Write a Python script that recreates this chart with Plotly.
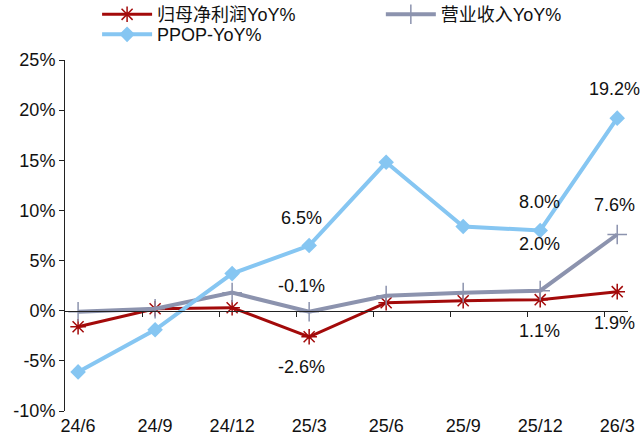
import plotly.graph_objects as go

periods = ["24/6", "24/9", "24/12", "25/3", "25/6", "25/9", "25/12", "26/3"]
net_profit_yoy = [-1.6, 0.2, 0.3, -2.6, 0.8, 1.0, 1.1, 1.9]
revenue_yoy = [-0.1, 0.2, 1.8, -0.1, 1.5, 1.8, 2.0, 7.6]
ppop_yoy = [-6.1, -1.9, 3.7, 6.5, 14.8, 8.4, 8.0, 19.2]
y_ticks = [-10, -5, 0, 5, 10, 15, 20, 25]

RED = "#A30A0A"
GRAY = "#8C93AE"
BLUE = "#86C6F2"
FONT = "Liberation Sans, Arial, Noto Sans CJK SC, sans-serif"

x = list(range(len(periods)))

fig = go.Figure()
fig.add_trace(go.Scatter(
    x=x, y=net_profit_yoy, name="归母净利润YoY%", mode="lines+markers",
    line=dict(color=RED, width=3), legend="legend",
    marker=dict(symbol="asterisk-open", size=13, line=dict(color=RED, width=1.5)),
))
fig.add_trace(go.Scatter(
    x=x, y=revenue_yoy, name="营业收入YoY%", mode="lines+markers",
    line=dict(color=GRAY, width=4), legend="legend2",
    marker=dict(symbol="cross-thin-open", size=14, line=dict(color=GRAY, width=1.5)),
))
fig.add_trace(go.Scatter(
    x=x, y=ppop_yoy, name="PPOP-YoY%", mode="lines+markers",
    line=dict(color=BLUE, width=4), legend="legend3",
    marker=dict(symbol="diamond", size=12, color=BLUE),
))

# value labels: (series, index, offset in px, downward positive)
labelled = [
    (ppop_yoy, 3, -28), (revenue_yoy, 3, -26), (net_profit_yoy, 3, 30),
    (ppop_yoy, 6, -28), (revenue_yoy, 6, -47), (net_profit_yoy, 6, 31),
    (revenue_yoy, 7, -30), (ppop_yoy, 7, -29), (net_profit_yoy, 7, 31),
]
x_shift = {3: -8, 6: -1, 7: -3}
for series, i, dy in labelled:
    fig.add_annotation(
        x=i, y=series[i], text=f"{series[i]:.1f}%", showarrow=False,
        yshift=-dy, xshift=x_shift[i], font=dict(size=18, color="#111111", family=FONT),
    )

legend_style = dict(
    orientation="v", yanchor="top", xanchor="left", font=dict(size=18),
    tracegroupgap=0, itemwidth=50, bgcolor="rgba(0,0,0,0)",
)

fig.update_layout(
    width=640, height=447,
    margin=dict(l=65, r=12, t=60, b=36, autoexpand=False),
    paper_bgcolor="white", plot_bgcolor="white",
    font=dict(family=FONT, size=18, color="#111111"),
    showlegend=True,
    legend=dict(x=0.057, y=1.182, **legend_style),
    legend2=dict(x=0.561, y=1.182, **legend_style),
    legend3=dict(x=0.057, y=1.125, **legend_style),
    xaxis=dict(
        range=[-0.17, 7.14], tickmode="array", tickvals=x, ticktext=periods,
        showline=False, ticks="", showgrid=False, zeroline=False,
        tickfont=dict(size=18), ticklabelstandoff=2,
    ),
    xaxis2=dict(
        overlaying="x", anchor="free", position=10 / 35,
        range=[-0.17, 7.14], tickmode="array",
        tickvals=[i + 0.83 for i in range(len(periods) - 1)],
        showticklabels=False, ticks="outside", ticklen=5, tickcolor="#222222",
        showline=True, linecolor="#222222", linewidth=1, showgrid=False, zeroline=False,
    ),
    yaxis=dict(
        range=[-10, 25], tickmode="array", tickvals=y_ticks,
        ticktext=[f"{v}%" for v in y_ticks], ticks="outside", ticklen=5,
        tickcolor="#222222", showline=True, linecolor="#222222", linewidth=1,
        showgrid=False, zeroline=False, tickfont=dict(size=18),
    ),
)
# invisible trace so the zero-line axis is rendered
fig.add_trace(go.Scatter(x=[0], y=[0], xaxis="x2", mode="markers",
                         marker=dict(opacity=0), showlegend=False, hoverinfo="skip"))

fig.write_html("out.html")
